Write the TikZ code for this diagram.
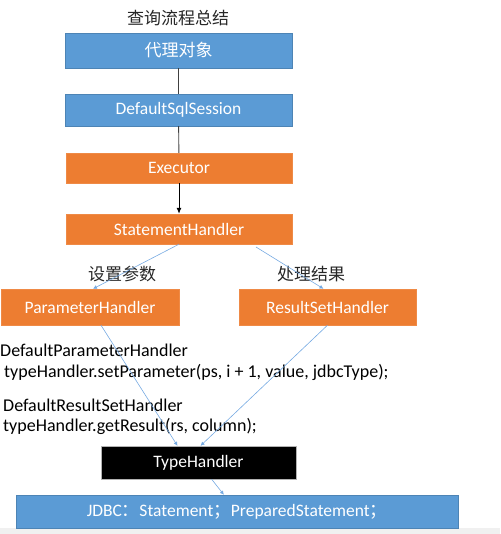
\documentclass[tikz,border=0pt]{standalone}
\usepackage{fontspec}
\setmainfont{Carlito}
\newfontfamily\cjk{Noto Sans CJK SC}
\usetikzlibrary{arrows.meta, positioning}
\definecolor{boxblue}{RGB}{91,155,213}
\definecolor{boxorange}{RGB}{237,125,49}
\definecolor{linkblue}{RGB}{118,170,226}
\definecolor{stemgrey}{RGB}{64,64,64}

\begin{document}
\begin{tikzpicture}[x=1pt, y=-1pt,
    blk/.style={rectangle, inner sep=0pt, text=white,
      font=\fontsize{17.5}{20}\selectfont},
    bluebox/.style={blk, fill=boxblue, draw=boxblue!85!black, line width=0.4pt},
    orangebox/.style={blk, fill=boxorange, draw=boxorange!90!white, line width=0.4pt},
    blackbox/.style={blk, fill=black, draw=gray!60, line width=0.4pt},
    cjklabel/.style={font=\cjk\fontsize{17}{20}\selectfont, text=black!85},
    codeline/.style={anchor=base west, inner sep=0pt, font=\fontsize{18}{21}\selectfont},
    stem/.style={stemgrey, line width=0.9pt},
    down/.style={-{Latex[length=6pt, width=5pt]}, black, line width=0.9pt},
    link/.style={-{Latex[length=4pt, width=4pt]}, linkblue, line width=0.6pt}]
  \useasboundingbox (0,0) rectangle (500,534);
  \fill[gray!12] (0,528) rectangle (500,534);
  % title and the chain of boxes
  \node[cjklabel] (title) at (178,18) {查询流程总结};
  \node[bluebox, minimum width=227pt, minimum height=35pt] (proxy) at (178.5,50.5)
    {\cjk\fontsize{17}{20}\selectfont 代理对象};
  \node[bluebox, minimum width=227pt, minimum height=32pt] (session) at (178.5,110)
    {DefaultSqlSession};
  \node[orangebox, minimum width=226pt, minimum height=30pt] (executor) at (179,168)
    {Executor};
  \node[orangebox, minimum width=226pt, minimum height=30pt] (stmt) at (179,229)
    {StatementHandler};
  \node[orangebox, minimum width=178pt, minimum height=36pt] (param) at (90,307)
    {ParameterHandler};
  \node[orangebox, minimum width=177pt, minimum height=36pt] (result) at (327.5,307)
    {ResultSetHandler};
  \node[blackbox, minimum width=195pt, minimum height=33pt] (type) at (198.5,462.5)
    {TypeHandler};
  \node[bluebox, minimum width=442pt, minimum height=33pt] (jdbc) at (237,511.5)
    {JDBC\cjk：\normalfont Statement\cjk；\normalfont PreparedStatement\cjk；};
  % labels on the two branches
  \node[cjklabel] (setlbl) at (122,274) {设置参数};
  \node[cjklabel] (getlbl) at (311,274) {处理结果};
  % code lines
  \node[codeline] (dph) at (0,356) {DefaultParameterHandler};
  \node[codeline] (setcall) at (4,377) {typeHandler.setParameter(ps, i + 1, value, jdbcType);};
  \node[codeline] (drh) at (3,411) {DefaultResultSetHandler};
  \node[codeline] (getcall) at (3,431) {typeHandler.getResult(rs, column);};
  % connectors
  \coordinate (rsfrom) at (256,247);
  \draw[stem] (proxy) -- (session);
  \draw[stem] (session) -- (executor);
  \draw[down] (executor) -- (stmt);
  \draw[link] (stmt.south) -- ([xshift=3pt]param.north);
  \draw[link] (rsfrom) -- ([xshift=-4pt]result.north);
  \draw[link] ([xshift=11pt]param.south) -- ([xshift=-21pt]type.north);
  \draw[link] (result.south) -- ([xshift=2pt]type.north);
  \draw[link] (type) -- (jdbc);
\end{tikzpicture}
\end{document}
